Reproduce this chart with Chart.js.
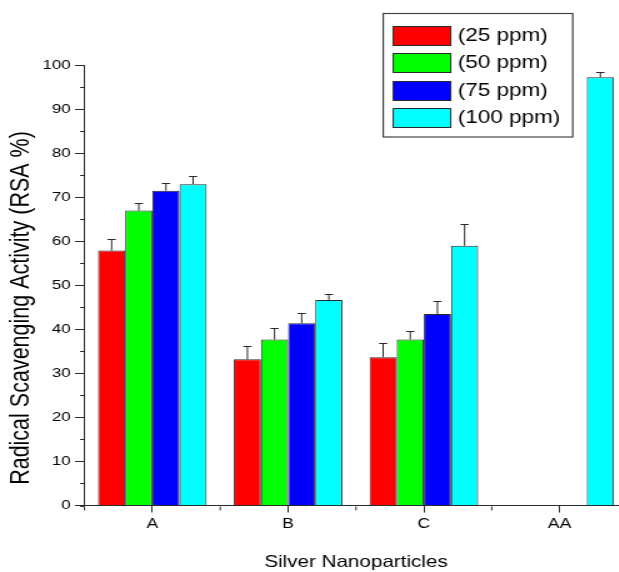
<!DOCTYPE html>
<html><head><meta charset="utf-8">
<script src="https://cdn.jsdelivr.net/npm/chart.js@4.4.1/dist/chart.umd.min.js"></script>
<style>
html,body{margin:0;padding:0;background:#fff;overflow:hidden;width:619px;height:572px;}
#wrap{position:absolute;left:0;top:0;width:502px;height:572px;transform:scaleX(1.25);transform-origin:0 0;}
</style></head><body>
<div id="wrap"><canvas id="c"></canvas></div>
<script>
// ---- data ----
const categories = ['A', 'B', 'C', 'AA'];
const seriesLabels = ['(25 ppm)', '(50 ppm)', '(75 ppm)', '(100 ppm)'];
const seriesColors = ['#ff0000', '#00ff00', '#0000ff', '#00ffff'];
const rsa25  = [57.9, 33.2, 33.7, null];
const rsa50  = [67.0, 37.7, 37.7, null];
const rsa75  = [71.5, 41.4, 43.5, null];
const rsa100 = [73.0, 46.7, 59.0, 97.3];
const err25  = [2.6, 3.0, 3.2, null];
const err50  = [1.7, 2.6, 1.9, null];
const err75  = [1.8, 2.4, 3.0, null];
const err100 = [1.8, 1.3, 4.9, 1.1];
const xTitle = 'Silver Nanoparticles';
const yTitle = 'Radical Scavenging Activity (RSA %)';

// ---- styling ----
const FONT = '"Liberation Sans", Arial, sans-serif';
const AXIS = '#2a2a2a';
const TEXT = '#000000';

const values = [rsa25, rsa50, rsa75, rsa100];
const errors = [err25, err50, err75, err100];

const datasets = seriesLabels.map((lab, i) => ({
  label: lab,
  data: values[i],
  errors: errors[i],
  backgroundColor: seriesColors[i],
  borderColor: AXIS,
  borderWidth: 1,
  borderSkipped: 'start'
}));

const errorBars = {
  id: 'errorBars',
  afterDatasetsDraw(chart) {
    const ctx = chart.ctx, ys = chart.scales.y;
    ctx.save();
    ctx.strokeStyle = AXIS;
    ctx.lineWidth = 1;
    chart.data.datasets.forEach((ds, di) => {
      const meta = chart.getDatasetMeta(di);
      meta.data.forEach((bar, i) => {
        const v = ds.data[i], e = ds.errors[i];
        if (v == null || e == null) return;
        const yt = Math.round(ys.getPixelForValue(v + e)) + 0.5;
        const yb = bar.y;
        const x = bar.x;
        ctx.beginPath();
        ctx.moveTo(x, yb); ctx.lineTo(x, yt);
        ctx.moveTo(x - 3.3, yt); ctx.lineTo(x + 3.3, yt);
        ctx.stroke();
      });
    });
    ctx.restore();
  }
};

const extras = {
  id: 'extras',
  afterDraw(chart) {
    const ctx = chart.ctx, a = chart.chartArea, ys = chart.scales.y;
    ctx.save();
    ctx.strokeStyle = AXIS;
    ctx.lineWidth = 1;
    // minor y ticks
    for (let v = 5; v < 100; v += 10) {
      const y = Math.round(ys.getPixelForValue(v)) + 0.5;
      ctx.beginPath(); ctx.moveTo(a.left - 3.6, y); ctx.lineTo(a.left, y); ctx.stroke();
    }
    // minor x ticks at category boundaries
    const n = categories.length;
    const bottom = Math.round(a.bottom) + 0.5;
    for (let i = 0; i <= n; i++) {
      const x = a.left + i * (a.right - a.left) / n;
      ctx.beginPath(); ctx.moveTo(x, bottom); ctx.lineTo(x, bottom + 4); ctx.stroke();
    }
    // x axis small extension left of y axis
    ctx.beginPath(); ctx.moveTo(a.left - 3.4, bottom); ctx.lineTo(a.left, bottom); ctx.stroke();

    // y title
    ctx.fillStyle = TEXT;
    ctx.font = '21.5px ' + FONT;
    ctx.textAlign = 'center';
    ctx.textBaseline = 'middle';
    ctx.save();
    ctx.translate(17.2, 308);
    ctx.rotate(-Math.PI / 2);
    ctx.fillText(yTitle, 0, 0);
    ctx.restore();

    // legend
    const lx = 306.6, ly = 12.7, lw = 151.6, lh = 123.5;
    ctx.strokeStyle = '#444444';
    ctx.lineWidth = 1.2;
    ctx.strokeRect(lx, Math.round(ly) + 0.5, lw, lh);
    ctx.lineWidth = 1;
    ctx.font = '18px ' + FONT;
    ctx.textAlign = 'left';
    ctx.textBaseline = 'middle';
    chart.data.datasets.forEach((ds, i) => {
      const top = Math.round(26 + i * 27.3) + 0.5;
      ctx.fillStyle = ds.backgroundColor;
      ctx.fillRect(314.6, top, 46, 19);
      ctx.strokeStyle = AXIS;
      ctx.strokeRect(314.6, top, 46, 19);
      ctx.fillStyle = TEXT;
      ctx.fillText(ds.label, 366.2, top + 10);
    });
    ctx.restore();
  }
};

new Chart(document.getElementById('c'), {
  type: 'bar',
  data: { labels: categories, datasets: datasets },
  options: {
    responsive: true,
    maintainAspectRatio: false,
    animation: false,
    events: [],
    layout: { padding: { top: 65.3, left: 0, right: 0, bottom: 0 } },
    plugins: { legend: { display: false }, tooltip: { enabled: false } },
    datasets: { bar: { categoryPercentage: 0.8, barPercentage: 1.0 } },
    scales: {
      x: {
        offset: true,
        grid: { display: true, drawOnChartArea: false, offset: false, tickLength: 7, color: AXIS, tickColor: AXIS, tickWidth: 1 },
        border: { display: true, color: AXIS, width: 1 },
        ticks: { color: TEXT, font: { family: FONT, size: 14 }, padding: 3, maxRotation: 0 },
        title: { display: true, text: xTitle, color: TEXT, font: { family: FONT, size: 16.5 }, padding: { top: 0, bottom: 0 } },
        afterFit(s) { s.height = 66.5; }
      },
      y: {
        min: 0, max: 100,
        ticks: {
          stepSize: 5, autoSkip: false,
          callback: v => (v % 10 === 0 ? String(v) : ''),
          color: TEXT, font: { family: FONT, size: 13.5 }, padding: 3.5
        },
        grid: {
          display: true, drawOnChartArea: false, tickLength: 7.6, tickWidth: 1,
          tickColor: c => (c.tick && c.tick.value % 10 === 0 ? AXIS : 'rgba(0,0,0,0)')
        },
        border: { display: true, color: AXIS, width: 1 },
        afterFit(s) { s.width = 67.6; }
      }
    }
  },
  plugins: [errorBars, extras]
});
</script>
</body></html>
